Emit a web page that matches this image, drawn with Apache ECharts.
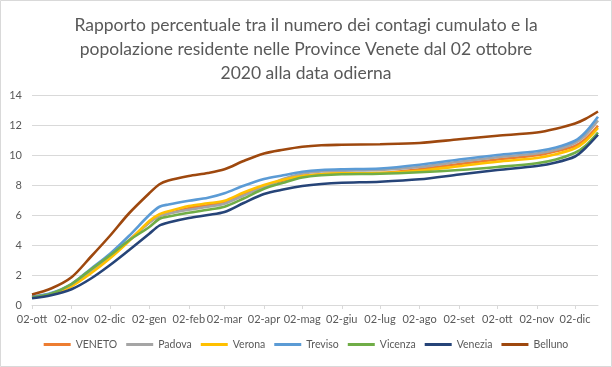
<!DOCTYPE html>
<html>
<head>
<meta charset="utf-8">
<script src="https://cdn.jsdelivr.net/npm/echarts@6/dist/echarts.min.js"></script>
<style>
html,body{margin:0;padding:0;background:#fff;}
#chart{width:612px;height:367px;}
</style>
</head>
<body>
<div id="chart"></div>
<script>
// Sample dates
var dates = ['2020-10-02','2020-10-17','2020-11-02','2020-11-17','2020-12-02','2020-12-17','2021-01-02','2021-01-10','2021-01-17','2021-02-02','2021-02-17','2021-03-02','2021-03-17','2021-04-02','2021-04-17','2021-05-02','2021-05-17','2021-06-02','2021-07-02','2021-08-02','2021-09-02','2021-10-02','2021-11-02','2021-11-17','2021-12-02','2021-12-10','2021-12-20'];

var veneto  = [0.55,0.75,1.3,2.2,3.2,4.3,5.5,5.95,6.1,6.45,6.65,6.85,7.4,7.95,8.3,8.6,8.72,8.77,8.8,9.05,9.4,9.7,9.98,10.25,10.6,11.05,11.95];
var padova  = [0.55,0.75,1.3,2.25,3.25,4.3,5.5,5.95,6.1,6.35,6.55,6.75,7.3,7.85,8.4,8.75,8.9,8.95,9.0,9.2,9.55,9.85,10.1,10.35,10.8,11.3,12.3];
var verona  = [0.5,0.7,1.25,2.1,3.1,4.25,5.6,6.05,6.25,6.6,6.78,6.95,7.5,8.0,8.35,8.6,8.72,8.78,8.8,8.95,9.25,9.55,9.8,10.05,10.45,10.9,11.8];
var treviso = [0.55,0.8,1.4,2.4,3.4,4.6,6.0,6.55,6.7,6.95,7.15,7.45,7.95,8.4,8.65,8.88,9.0,9.05,9.1,9.35,9.7,10.0,10.25,10.5,10.95,11.5,12.55];
var vicenza = [0.5,0.75,1.4,2.35,3.3,4.3,5.2,5.75,5.9,6.15,6.35,6.55,7.1,7.75,8.15,8.5,8.65,8.72,8.75,8.85,9.0,9.2,9.45,9.7,10.15,10.6,11.5];
var venezia = [0.45,0.65,1.05,1.75,2.65,3.65,4.75,5.3,5.5,5.8,6.0,6.2,6.8,7.4,7.7,7.93,8.07,8.15,8.22,8.38,8.7,9.0,9.27,9.5,9.9,10.45,11.35];
var belluno = [0.7,1.1,1.85,3.2,4.6,6.1,7.45,8.05,8.3,8.6,8.8,9.05,9.6,10.1,10.35,10.55,10.65,10.68,10.72,10.8,11.05,11.28,11.5,11.75,12.1,12.4,12.9];

var seriesNames = ['VENETO','Padova','Verona','Treviso','Vicenza','Venezia','Belluno'];
var seriesData = [veneto, padova, verona, treviso, vicenza, venezia, belluno];
var colors = ['#ED7D31','#A5A5A5','#FFC000','#5B9BD5','#70AD47','#264478','#9E480E'];

// X tick positions and labels
var tickDates = ['2020-10-02','2020-11-02','2020-12-02','2021-01-02','2021-02-02','2021-03-02','2021-04-02','2021-05-02','2021-06-02','2021-07-02','2021-08-02','2021-09-02','2021-10-02','2021-11-02','2021-12-02'];
var tickLabels = ['02-ott','02-nov','02-dic','02-gen','02-feb','02-mar','02-apr','02-mag','02-giu','02-lug','02-ago','02-set','02-ott','02-nov','02-dic'];
var xMin = '2020-10-02', xMax = '2021-12-20';
var yTicks = [0,2,4,6,8,10,12,14];

function ts(s){ var p = s.split('-'); return Date.UTC(+p[0], +p[1]-1, +p[2]); }
var tickTs = tickDates.map(ts);

var chart = echarts.init(document.getElementById('chart'), null, {renderer:'canvas'});
var FONT = 'Lato';
var TXT = '#595959';

chart.setOption({
  animation: false,
  backgroundColor: '#fff',
  textStyle: {fontFamily: FONT},
  title: {
    text: 'Rapporto percentuale tra il numero dei contagi cumulato e la\npopolazione residente nelle Province Venete dal 02 ottobre\n2020 alla data odierna',
    left: 'center',
    top: 8,
    textStyle: {fontFamily: FONT, fontSize: 17.5, fontWeight: 'normal', color: TXT, lineHeight: 24, align: 'center'}
  },
  graphic: [{
    type: 'rect', silent: true, z: -1,
    shape: {x: 0.5, y: 0.5, width: 611, height: 366},
    style: {fill: 'none', stroke: '#d9d9d9', lineWidth: 1}
  }],
  legend: {
    bottom: 12,
    left: 'center',
    icon: 'rect',
    itemWidth: 27,
    itemHeight: 3,
    itemGap: 9,
    textStyle: {fontFamily: FONT, fontSize: 10.5, color: TXT},
    data: seriesNames
  },
  grid: {left: 32, right: 14, top: 95, bottom: 62, containLabel: false},
  xAxis: {
    type: 'value',
    min: ts(xMin),
    max: ts(xMax),
    axisLine: {show: true, onZero: false, lineStyle: {color: '#d9d9d9'}},
    axisTick: {show: true, length: 4, lineStyle: {color: '#d9d9d9'}, customValues: tickTs},
    axisLabel: {
      customValues: tickTs,
      fontFamily: FONT, fontSize: 11, color: TXT, margin: 9,
      hideOverlap: false,
      formatter: function(v){ var i = tickTs.indexOf(v); return i >= 0 ? tickLabels[i] : ''; }
    },
    splitLine: {show: false}
  },
  yAxis: {
    type: 'value',
    min: yTicks[0], max: yTicks[yTicks.length-1], interval: 2,
    axisLine: {show: false},
    axisTick: {show: false},
    axisLabel: {fontFamily: FONT, fontSize: 11, color: TXT, margin: 10},
    splitLine: {lineStyle: {color: '#d9d9d9', width: 1}}
  },
  series: seriesNames.map(function(name, k){
    return {
      name: name,
      type: 'line',
      showSymbol: false,
      symbol: 'none',
      smooth: 0.3,
      color: colors[k],
      lineStyle: {width: 2.6, color: colors[k]},
      data: dates.map(function(d, i){ return [ts(d), seriesData[k][i]]; })
    };
  })
});
</script>
</body>
</html>
